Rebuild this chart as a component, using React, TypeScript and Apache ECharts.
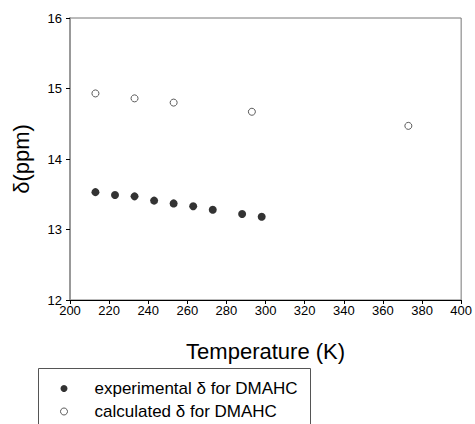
import React, { useEffect, useRef } from "react";
import * as echarts from "echarts";

const expT = [213, 223, 233, 243, 253, 263, 273, 288, 298];
const expD = [13.53, 13.49, 13.47, 13.41, 13.37, 13.33, 13.28, 13.22, 13.18];
const calcT = [213, 233, 253, 293, 373];
const calcD = [14.93, 14.86, 14.8, 14.67, 14.47];
const seriesNames = ["experimental δ for DMAHC", "calculated δ for DMAHC"];

export default function App() {
  const ref = useRef<HTMLDivElement>(null);
  useEffect(() => {
    const chart = echarts.init(ref.current!, null, { renderer: "svg" });
    const font = "Liberation Sans, Arial, sans-serif";
    chart.setOption({
      animation: false,
      textStyle: { fontFamily: font },
      grid: {
        left: 70,
        right: 12,
        top: 18,
        bottom: 124,
        show: true,
        borderColor: "#777",
        borderWidth: 1,
      },
      xAxis: {
        type: "value",
        min: 200,
        max: 400,
        interval: 20,
        name: "Temperature (K)",
        nameLocation: "middle",
        nameGap: 40,
        nameTextStyle: { fontSize: 22, color: "#000", fontFamily: font },
        axisLine: { show: true, lineStyle: { color: "#000", width: 1 } },
        axisTick: { show: true, length: 4, lineStyle: { color: "#000" } },
        axisLabel: { fontSize: 13, color: "#000", margin: 4, fontFamily: font },
        splitLine: { show: false },
      },
      yAxis: {
        type: "value",
        min: 12,
        max: 16,
        interval: 1,
        name: "δ(ppm)",
        nameLocation: "middle",
        nameGap: 38,
        nameRotate: 90,
        nameTextStyle: { fontSize: 22, color: "#000", fontFamily: font },
        axisLine: { show: true, lineStyle: { color: "#999", width: 2 } },
        axisTick: { show: true, length: 4, lineStyle: { color: "#000" } },
        axisLabel: { fontSize: 13, color: "#000", margin: 8, fontFamily: font },
        splitLine: { show: false },
      },
      legend: {
        show: true,
        orient: "vertical",
        left: 60,
        top: 380,
        height: 44,
        itemWidth: 7,
        itemHeight: 7,
        itemGap: 6,
        padding: 0,
        textStyle: { fontSize: 17, color: "#000", padding: [0, 0, 0, 22], fontFamily: font },
        data: [
          { name: seriesNames[0], icon: "circle", itemStyle: { color: "#000", borderWidth: 0 } },
          { name: seriesNames[1], icon: "circle", itemStyle: { color: "#fff", borderColor: "#333", borderWidth: 1 } },
        ],
      },
      graphic: [
        {
          type: "rect",
          left: 36,
          top: 366,
          shape: { width: 272, height: 70 },
          style: { fill: "none", stroke: "#555", lineWidth: 1 },
          silent: true,
        },
      ],
      series: [
        {
          name: seriesNames[0],
          type: "scatter",
          symbol: "circle",
          symbolSize: 8,
          itemStyle: { color: "#000" },
          data: expT.map((t, i) => [t, expD[i]]),
        },
        {
          name: seriesNames[1],
          type: "scatter",
          symbol: "circle",
          symbolSize: 7,
          itemStyle: { color: "#fff", borderColor: "#333", borderWidth: 1 },
          data: calcT.map((t, i) => [t, calcD[i]]),
        },
      ],
    });
    return () => chart.dispose();
  }, []);
  return (
    <div
      ref={ref}
      style={{ position: "absolute", left: 0, top: 0, width: 475, height: 424 }}
    />
  );
}
